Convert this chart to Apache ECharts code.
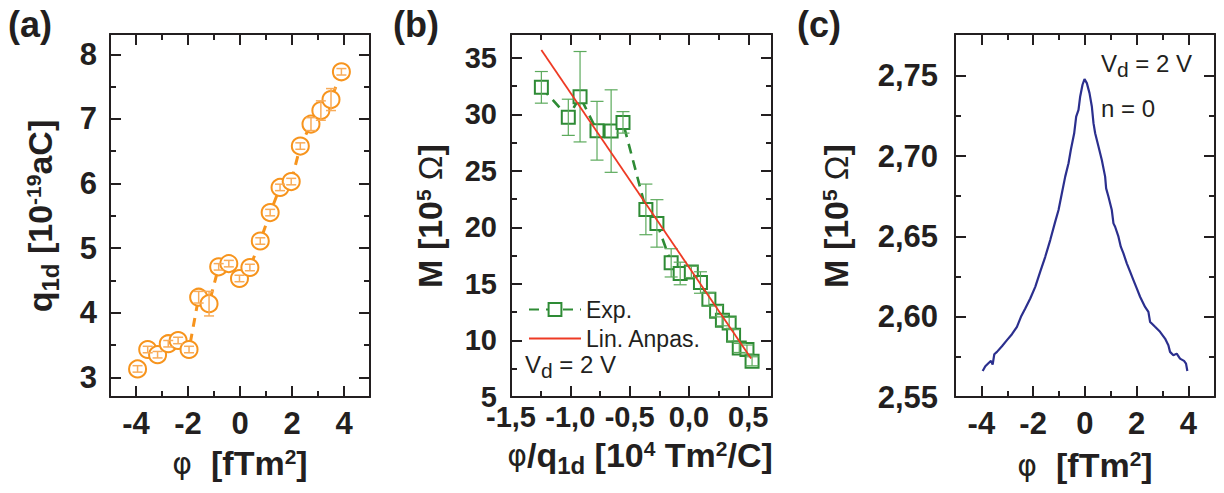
<!DOCTYPE html>
<html><head><meta charset="utf-8">
<script src="https://cdn.jsdelivr.net/npm/echarts@6/dist/echarts.min.js"></script>
<style>html,body{margin:0;padding:0;background:#fff}.pane{position:absolute;left:0;top:0;width:1224px;height:493px}</style>
</head><body><div id="ca" class="pane"></div><div id="cb" class="pane"></div><div id="cc" class="pane"></div>
<script>
// ---------- Panel (a): q1d vs phi ----------
const aPhi = [-3.94,-3.55,-3.17,-2.76,-2.38,-1.96,-1.59,-1.19,-0.82,-0.43,-0.02,0.38,0.78,1.16,1.54,1.97,2.32,2.73,3.11,3.50,3.90];
const aQ   = [3.13,3.43,3.35,3.52,3.57,3.43,4.24,4.14,4.71,4.76,4.53,4.70,5.11,5.55,5.94,6.03,6.58,6.92,7.13,7.30,7.73];
const aErr = [0.05,0.05,0.05,0.05,0.05,0.05,0.09,0.19,0.05,0.05,0.05,0.05,0.05,0.05,0.05,0.05,0.05,0.10,0.15,0.17,0.05];
const aXMajor = [-4,-2,0,2,4];
const aXMinor = [-3,-1,1,3];
const aYMajor = [3,4,5,6,7,8];
const aYMinor = [3.5,4.5,5.5,6.5,7.5];

// ---------- Panel (b): M vs phi/q1d ----------
const bX   = [-1.244,-1.017,-0.918,-0.775,-0.656,-0.556,-0.363,-0.270,-0.150,-0.074,0.020,0.097,0.168,0.233,0.282,0.339,0.376,0.424,0.489,0.532];
const bM   = [32.4,29.75,31.57,28.56,28.53,29.3,21.6,20.36,16.87,15.93,16.07,15.13,13.65,12.59,11.8,11.55,10.46,9.34,9.2,8.16];
const bErr = [1.4,1.6,4.0,2.6,3.65,0.95,2.24,2.1,1.25,1.0,0.5,0.95,0.6,0.5,0.5,0.5,0.5,0.4,0.4,0.4];
const fitX = [-1.244, 0.524];
const fitY = [35.7, 8.4];
const bXMajor = [-1.5,-1.0,-0.5,0.0,0.5];
const bXMinor = [-1.25,-0.75,-0.25,0.25];
const bYMajor = [5,10,15,20,25,30,35];
const bYMinor = [7.5,12.5,17.5,22.5,27.5,32.5];

// ---------- Panel (c): M vs phi ----------
const cPhi = [-3.951,-3.848,-3.719,-3.629,-3.565,-3.501,-3.398,-3.205,-3.012,-2.819,-2.626,-2.471,-2.304,-2.111,-1.918,-1.725,-1.532,-1.339,-1.146,-1.018,-0.889,-0.760,-0.632,-0.542,-0.413,-0.336,-0.246,-0.181,-0.091,-0.014,
  0.0,0.076,0.179,0.269,0.333,0.398,0.526,0.655,0.783,0.822,0.912,1.041,1.105,1.169,1.298,1.388,1.491,1.620,1.748,1.877,2.006,2.134,2.327,2.456,2.520,2.585,2.713,2.906,3.099,3.228,3.292,3.421,3.550,3.678,3.833,3.910,3.961];
const cM = [2.5662,2.5691,2.5712,2.5725,2.5702,2.5766,2.5781,2.5816,2.5854,2.5891,2.5937,2.5999,2.6051,2.6113,2.6186,2.6280,2.6373,2.6477,2.6592,2.6664,2.6768,2.6872,2.6955,2.7039,2.7142,2.7246,2.7288,2.7371,2.7444,2.7479,
  2.7480,2.7454,2.7392,2.7309,2.7205,2.7142,2.7059,2.6976,2.6872,2.6799,2.6747,2.6664,2.6581,2.6560,2.6498,2.6436,2.6394,2.6332,2.6280,2.6228,2.6176,2.6124,2.6061,2.6030,2.5968,2.5958,2.5937,2.5906,2.5864,2.5822,2.5781,2.5760,2.5770,2.5739,2.5725,2.5708,2.5662];
const cXMajor = [-4,-2,0,2,4];
const cXMinor = [-3,-1,1,3];
const cYMajor = [2.55,2.60,2.65,2.70,2.75];
const cYMinor = [2.575,2.625,2.675,2.725];

// ---------- styling ----------
const FONT = 'Liberation Sans, Arial, sans-serif';
const INK = '#231F20';
const ORANGE = '#F7941D', GREEN = '#2E8B35', RED = '#EE3A24', NAVY = '#2B2F8E';
const MAJOR_LEN = 11, MINOR_LEN = 6;

const titleRich = {
  n:{fontFamily:FONT, fontWeight:'bold', fontSize:34, fill:INK, lineHeight:44, verticalAlign:'middle'},
  g:{fontFamily:'DejaVu Sans', fontWeight:'normal', fontSize:30, fill:INK, lineHeight:44, verticalAlign:'middle'},
  o:{fontFamily:FONT, fontWeight:'normal', fontSize:33, fill:INK, lineHeight:44, verticalAlign:'middle'},
  p:{fontFamily:FONT, fontWeight:'bold', fontSize:21, fill:INK, lineHeight:21, verticalAlign:'top', padding:[5,0,0,0]},
  s:{fontFamily:FONT, fontWeight:'bold', fontSize:24, fill:INK, lineHeight:24, verticalAlign:'bottom'}
};
const textRich = {
  n:{fontFamily:FONT, fontSize:24, fill:INK, lineHeight:34, verticalAlign:'middle'},
  s:{fontFamily:FONT, fontSize:21, fill:INK, lineHeight:21, verticalAlign:'bottom'}
};

// main axis (labels) + opposite axis + minor-tick axes on both sides
function axesFor(isX, min, max, major, minor, fmt, labelMargin, labelSize) {
  const pos = isX ? ['bottom','top'] : ['left','right'];
  const list = [{type:'value', min:min, max:max, position:pos[0], splitLine:{show:false},
    axisLine:{show:true, onZero:false, lineStyle:{color:INK, width:2}},
    axisTick:{show:true, inside:true, length:MAJOR_LEN, lineStyle:{color:INK, width:2}, customValues:major},
    axisLabel:{show:true, customValues:major, formatter:fmt, margin:labelMargin, fontFamily:FONT, fontWeight:'bold', fontSize:labelSize, color:INK}}];
  list.push({type:'value', min:min, max:max, position:pos[1], splitLine:{show:false},
    axisLine:{show:true, onZero:false, lineStyle:{color:INK, width:2}},
    axisTick:{show:true, inside:true, length:MAJOR_LEN, lineStyle:{color:INK, width:2}, customValues:major},
    axisLabel:{show:false}});
  for (let k = 0; k < 2; k++) {
    list.push({type:'value', min:min, max:max, position:pos[k], splitLine:{show:false},
      axisLine:{show:false, onZero:false},
      axisTick:{show:true, inside:true, length:MINOR_LEN, lineStyle:{color:INK, width:2}, customValues:minor},
      axisLabel:{show:false}});
  }
  return list;
}
const comma = d => v => v.toFixed(d).replace('.', ',');

function errSeries(xs, ys, es, color, cap, width) {
  return {
    type:'custom', xAxisIndex:0, yAxisIndex:0, silent:true, z:4,
    data: xs.map((x,i) => [x, ys[i]-es[i], ys[i]+es[i]]),
    encode:{x:0, y:[1,2]},
    renderItem:(params, api) => {
      const x = api.value(0);
      const lo = api.coord([x, api.value(1)]), hi = api.coord([x, api.value(2)]);
      return {type:'group', children:[
        {type:'line', shape:{x1:lo[0], y1:lo[1], x2:hi[0], y2:hi[1]}, style:{stroke:color, lineWidth:width}},
        {type:'line', shape:{x1:lo[0]-cap/2, y1:lo[1], x2:lo[0]+cap/2, y2:lo[1]}, style:{stroke:color, lineWidth:width}},
        {type:'line', shape:{x1:hi[0]-cap/2, y1:hi[1], x2:hi[0]+cap/2, y2:hi[1]}, style:{stroke:color, lineWidth:width}}
      ]};
    }
  };
}
const zip = (xs, ys) => xs.map((x,i) => [x, ys[i]]);
const txt = (text, x, y, rot, rich) => ({type:'text', x:x, y:y, rotation:rot || 0, silent:true,
  style:{text:text, rich:rich || titleRich, align:'center', verticalAlign:'middle'}});
const panelLabel = (t, x) => ({type:'text', x:x, y:6, silent:true, style:{text:t, font:'bold 36px '+FONT, fill:INK}});

// ---------- chart (a) ----------
const optA = {
  animation:false,
  grid:{left:110, top:34, width:260, height:363},
  xAxis:axesFor(true, -5, 5, aXMajor, aXMinor, comma(0), 11, 31),
  yAxis:axesFor(false, 2.695, 8.315, aYMajor, aYMinor, comma(0), 13, 31),
  series:[
    {type:'line', xAxisIndex:0, yAxisIndex:0, data:zip(aPhi, aQ), z:3,
     symbol:'emptyCircle', symbolSize:17, itemStyle:{color:ORANGE, borderWidth:3.6},
     lineStyle:{color:ORANGE, width:3, type:[9,7]}},
    errSeries(aPhi, aQ, aErr, '#F8AC5A', 10, 1.5)
  ],
  graphic:[
    panelLabel('(a)', 8),
    txt('{n|q}{s|1d}{n| [10}{p|-19}{n|aC]}', 40, 216, Math.PI/2),
    txt('{g|φ}{n|  [fTm}{p|2}{n|]}', 240, 463, 0)
  ]
};

// ---------- chart (b) ----------
const optB = {
  animation:false,
  grid:{left:511, top:34, width:261, height:363},
  xAxis:axesFor(true, -1.5, 0.7, bXMajor, bXMinor, comma(1), 5, 29),
  yAxis:axesFor(false, 5, 37.12, bYMajor, bYMinor, comma(0), 14, 29),
  legend:{data:[{name:'Exp.'}, {name:'Lin. Anpas.', itemStyle:{opacity:0}}], orient:'vertical', left:523, top:293,
    itemWidth:52, itemHeight:16, itemGap:6, textStyle:{fontFamily:FONT, fontSize:23, color:INK}},
  series:[
    errSeries(bX, bM, bErr, '#5CAA5C', 13, 1.2),
    {type:'line', name:'Exp.', xAxisIndex:0, yAxisIndex:0, data:zip(bX, bM), z:3,
     symbol:'emptyRect', symbolSize:13, itemStyle:{color:GREEN, borderWidth:2.6},
     lineStyle:{color:GREEN, width:2.6, type:[10,7]}},
    {type:'line', name:'Lin. Anpas.', xAxisIndex:0, yAxisIndex:0, data:zip(fitX, fitY), z:5,
     symbol:'none', lineStyle:{color:RED, width:1.8}, itemStyle:{color:RED}}
  ],
  graphic:[
    panelLabel('(b)', 393),
    txt('{n|M [10}{p|5}{o| Ω}{n|]}', 430, 216, Math.PI/2),
    txt('{g|φ}{n|/q}{s|1d}{n| [10}{p|4}{n| Tm}{p|2}{n|/C]}', 640, 455, 0),
    {type:'text', x:525, y:347, silent:true, style:{text:'{n|V}{s|d}{n| = 2 V}', rich:textRich}}
  ]
};

// ---------- chart (c) ----------
const optC = {
  animation:false,
  grid:{left:955, top:34, width:260, height:363},
  xAxis:axesFor(true, -5.02, 5.03, cXMajor, cXMinor, comma(0), 11, 31),
  yAxis:axesFor(false, 2.55, 2.776, cYMajor, cYMinor, comma(2), 17, 31),
  series:[
    {type:'line', xAxisIndex:0, yAxisIndex:0, data:zip(cPhi, cM), z:3,
     symbol:'none', lineStyle:{color:NAVY, width:2.2}}
  ],
  graphic:[
    panelLabel('(c)', 797),
    txt('{n|M [10}{p|5}{o| Ω}{n|]}', 836, 216, Math.PI/2),
    txt('{g|φ}{n|  [fTm}{p|2}{n|]}', 1085, 465, 0),
    {type:'text', x:1101, y:46, silent:true, style:{text:'{n|V}{s|d}{n| = 2 V}', rich:textRich}},
    {type:'text', x:1101, y:91, silent:true, style:{text:'{n|n = 0}', rich:textRich}}
  ]
};

echarts.init(document.getElementById('ca'), null, {renderer:'svg'}).setOption(optA);
echarts.init(document.getElementById('cb'), null, {renderer:'svg'}).setOption(optB);
echarts.init(document.getElementById('cc'), null, {renderer:'svg'}).setOption(optC);
</script></body></html>
